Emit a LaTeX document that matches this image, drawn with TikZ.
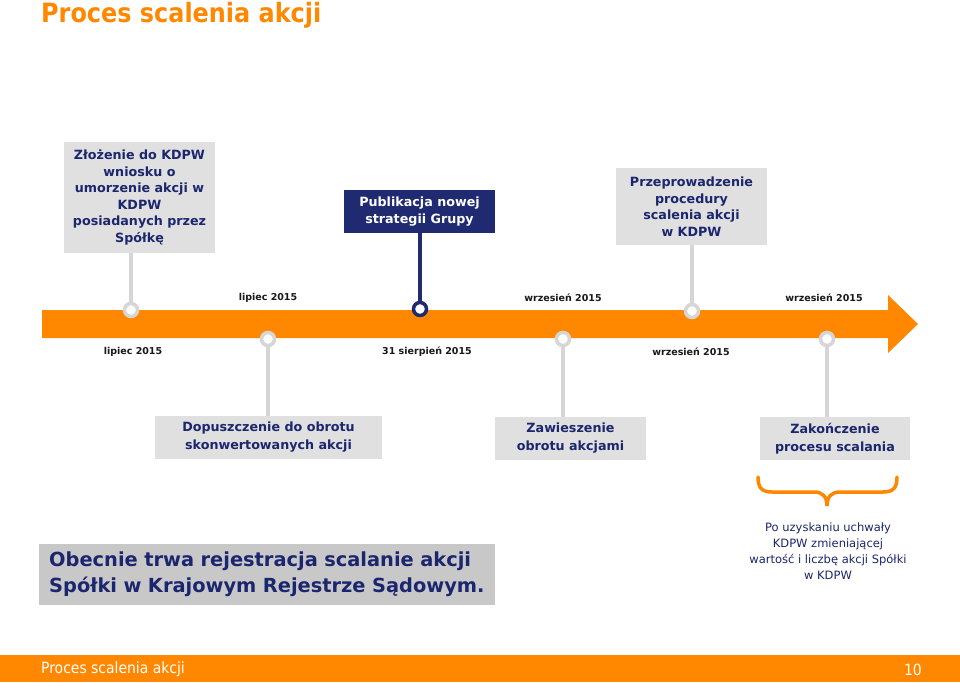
\documentclass[tikz,border=0pt]{standalone}
\usepackage{fontspec}
\setmainfont{DejaVu Sans}
\newfontfamily\condfont{DejaVuSansCondensed}[Extension=.ttf,BoldFont=DejaVuSansCondensed-Bold]
\definecolor{orng}{RGB}{255,136,0}
\definecolor{navy}{RGB}{27,38,110}
\definecolor{navyfill}{RGB}{31,42,112}
\definecolor{boxgrey}{RGB}{224,224,224}
\definecolor{darkgrey}{RGB}{200,200,200}
\definecolor{stemgrey}{RGB}{214,214,214}
\definecolor{datecol}{RGB}{25,25,25}
\tikzset{
  box/.style={fill=boxgrey, text=navy, align=center, inner sep=0pt},
  topfont/.style={font=\bfseries\fontsize{12.7}{16.5}\selectfont},
  botfont/.style={font=\bfseries\fontsize{12.7}{18}\selectfont},
  datelbl/.style={text=datecol, font=\bfseries\fontsize{9.5}{11}\selectfont, inner sep=0pt},
  mark grey/.style={circle, draw=stemgrey, line width=3.5pt, fill=white, minimum size=13pt, inner sep=0pt},
  mark navy/.style={circle, draw=navyfill, line width=3.5pt, fill=white, minimum size=13pt, inner sep=0pt},
  stem/.style={draw=stemgrey, line width=4.5pt},
  stemnavy/.style={draw=navyfill, line width=4.5pt},
}
\begin{document}
\begin{tikzpicture}[x=1pt,y=-1pt]
\useasboundingbox (0,0) rectangle (960,682);
\fill[white] (0,0) rectangle (960,682);

% title
\node[anchor=west, text=orng, font=\condfont\bfseries\fontsize{26.6}{30}\selectfont, inner sep=0pt] (title) at (41,15) {Proces scalenia akcji};

% timeline arrow
\fill[orng] (42,310) -- (888,310) -- (888,295) -- (918,324) -- (888,353) -- (888,338) -- (42,338) -- cycle;

% top boxes
\node[box, topfont, minimum width=151pt, minimum height=111pt] (b1) at (139.5,197.5)
  {Złożenie do KDPW\\wniosku o\\umorzenie akcji w\\KDPW\\posiadanych przez\\Spółkę};
\node[box, fill=navyfill, text=white, font=\bfseries\fontsize{12.7}{17}\selectfont, minimum width=151pt, minimum height=43pt] (b2) at (419.5,211.5)
  {Publikacja nowej\\strategii Grupy};
\node[box, topfont, minimum width=151pt, minimum height=77pt] (b3) at (691.5,206.5)
  {Przeprowadzenie\\procedury\\scalenia akcji\\w KDPW};

% bottom boxes
\node[box, botfont, minimum width=227pt, minimum height=43pt] (b4) at (268.5,437.5)
  {Dopuszczenie do obrotu\\skonwertowanych akcji};
\node[box, botfont, minimum width=151pt, minimum height=43pt] (b5) at (570.5,438.5)
  {Zawieszenie\\obrotu akcjami};
\node[box, botfont, minimum width=150pt, minimum height=43pt] (b6) at (835,438.5)
  {Zakończenie\\procesu scalania};

% markers
\node[mark grey] (m1) at (131,310) {};
\node[mark navy] (m2) at (420,309) {};
\node[mark grey] (m3) at (692,311) {};
\node[mark grey] (m4) at (268,339) {};
\node[mark grey] (m5) at (563,339) {};
\node[mark grey] (m6) at (827,339) {};

% stems
\draw[stem] (b1.south -| m1) -- (m1);
\draw[stemnavy] (b2.south -| m2) -- (m2);
\draw[stem] (b3.south -| m3) -- (m3);
\draw[stem] (m4) -- (b4.north -| m4);
\draw[stem] (m5) -- (b5.north -| m5);
\draw[stem] (m6) -- (b6.north -| m6);

% date labels
\node[datelbl] (d1) at (268,298) {lipiec 2015};
\node[datelbl] (d2) at (563,298) {wrzesień 2015};
\node[datelbl] (d3) at (824,298) {wrzesień 2015};
\node[datelbl] (d4) at (133,352) {lipiec 2015};
\node[datelbl] (d5) at (427,352) {31 sierpień 2015};
\node[datelbl] (d6) at (691,352) {wrzesień 2015};

% bottom-left box
\node[fill=darkgrey, text=navy, align=left, anchor=west, inner sep=0pt, text width=456pt, minimum height=61pt,
      font=\bfseries\fontsize{19.4}{26}\selectfont] (b7) at (39,574.5)
  {\hspace*{10pt}Obecnie trwa rejestracja scalanie akcji\\\hspace*{10pt}Spółki w Krajowym Rejestrze Sądowym.};

% brace
\draw[orng, line width=3.5pt, line cap=round]
  (758,477) .. controls (758,488) and (762,492) .. (772,492) -- (814,492)
  .. controls (822,492) and (827,496) .. (827,506)
  .. controls (827,496) and (832,492) .. (840,492) -- (883,492)
  .. controls (893,492) and (897,488) .. (897,477);

\node[text=navy, align=center, font=\fontsize{11.5}{16}\selectfont, inner sep=0pt] (note) at (828,551)
  {Po uzyskaniu uchwały\\KDPW zmieniającej\\wartość i liczbę akcji Spółki\\w KDPW};

% footer
\fill[orng] (0,655) rectangle (960,682);
\node[anchor=west, text=white, font=\condfont\fontsize{15.5}{18}\selectfont, inner sep=0pt] (foot) at (41,669.5) {Proces scalenia akcji};
\node[anchor=east, text=white, font=\condfont\fontsize{15.5}{18}\selectfont, inner sep=0pt] (page) at (922,669.5) {10};
\end{tikzpicture}
\end{document}
